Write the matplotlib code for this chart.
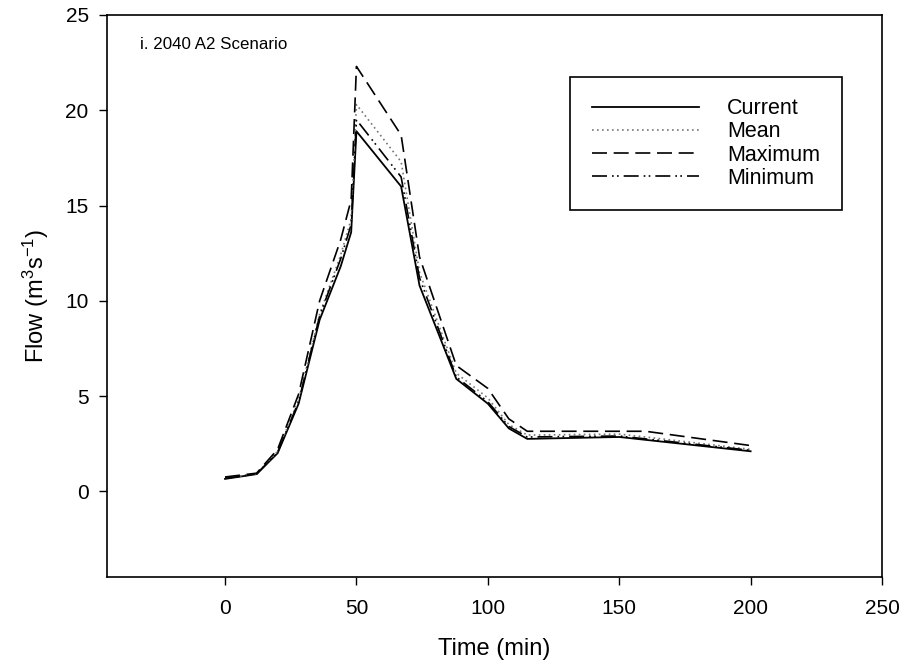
import matplotlib
matplotlib.use("Agg")
import matplotlib.pyplot as plt

plt.rcParams['font.family'] = ['Liberation Sans', 'DejaVu Sans']
plt.rcParams['mathtext.default'] = 'regular'

time = [0, 12, 20, 28, 36, 44, 48, 50, 67, 74, 88, 100, 108, 115, 150, 160, 200]
current = [0.65, 0.9, 2.0, 4.6, 9.0, 11.8, 13.6, 18.9, 16.0, 10.8, 5.9, 4.6, 3.3, 2.75, 2.85, 2.7, 2.1]
mean = [0.7, 0.92, 2.1, 4.8, 9.3, 12.4, 14.3, 20.3, 17.3, 11.5, 6.2, 4.9, 3.5, 2.95, 3.0, 2.85, 2.2]
maximum = [0.75, 0.95, 2.2, 5.1, 10.0, 13.2, 15.3, 22.3, 18.7, 12.3, 6.6, 5.4, 3.8, 3.15, 3.15, 3.15, 2.4]
minimum = [0.68, 0.9, 2.05, 4.7, 9.2, 12.2, 14.0, 19.5, 16.5, 11.2, 6.0, 4.7, 3.4, 2.85, 2.9, 2.75, 2.15]

xticks = [0, 50, 100, 150, 200, 250]
yticks = [0, 5, 10, 15, 20, 25]

fig = plt.figure(figsize=(9.05, 6.69), dpi=100)
ax = fig.add_axes([0.118, 0.1375, 0.8566, 0.8401])

ax.plot(time, current, color='black', lw=1.3, ls='-', label='Current')
ax.plot(time, mean, color='#777777', lw=1.2, ls=(0, (1, 2)), label='Mean')
ax.plot(time, maximum, color='black', lw=1.2, ls=(0, (9, 4)), label='Maximum')
ax.plot(time, minimum, color='black', lw=1.2, ls=(0, (9, 3, 1, 2, 1, 3)), label='Minimum')

ax.set_xlim(-45, 250)
ax.set_ylim(-4.5, 25)
ax.set_xticks(xticks)
ax.set_yticks(yticks)
ax.tick_params(direction='out', length=6, width=1, labelsize=15)
ax.tick_params(axis='x', pad=10)
ax.tick_params(axis='y', pad=7)
for s in ax.spines.values():
    s.set_linewidth(1.2)

ax.set_xlabel('Time (min)', fontsize=17, labelpad=14)
ax.set_ylabel('Flow (m$^3$s$^{-1}$)', fontsize=17, labelpad=10)

ax.text(0.043, 0.947, 'i. 2040 A2 Scenario', transform=ax.transAxes, fontsize=12.2,
        va='center', ha='left')

leg = ax.legend(loc='upper right', bbox_to_anchor=(0.948, 0.89), fontsize=15.5,
                handlelength=5.0, handletextpad=1.3, labelspacing=0.1,
                borderpad=1.0, fancybox=False, framealpha=1, edgecolor='black',
                borderaxespad=0)
leg.get_frame().set_linewidth(1.2)

fig.savefig('out.png', dpi=100)
